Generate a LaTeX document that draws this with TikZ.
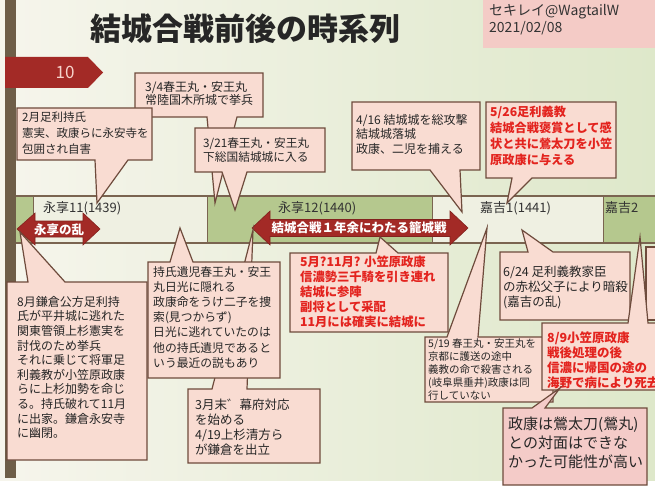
\documentclass[tikz,border=0pt]{standalone}
\usepackage{fontspec}
\newfontfamily\jp{Noto Sans CJK JP}
\definecolor{bgL}{HTML}{F6F5EC}
\definecolor{bgR}{HTML}{DEE8CA}
\definecolor{bandG}{HTML}{B5C88E}
\definecolor{bandL}{HTML}{EFF0E2}
\definecolor{bandLine}{HTML}{7A6450}
\definecolor{arrowRed}{HTML}{A32A26}
\definecolor{boxFill}{HTML}{F9DCD2}
\definecolor{boxFillB}{HTML}{F4CBC8}
\definecolor{boxLine}{HTML}{6E4B3C}
\definecolor{txtRed}{HTML}{E3231E}
\definecolor{pinkTag}{HTML}{F4CBC6}
\definecolor{barBrown}{HTML}{6E5E48}
\definecolor{tagText}{HTML}{F6D3CB}
\tikzset{
  callout/.style={fill=boxFill, draw=boxLine, line width=1.2pt, line join=miter},
  btext/.style={anchor=north west, inner sep=0pt, align=left, text=black!85},
  redtext/.style={btext, text=txtRed},
  yearlabel/.style={anchor=west, inner sep=0pt, text=black!80, font=\jp\fontsize{13}{15}\selectfont},
  bigarrow/.style={fill=arrowRed, draw=arrowRed!80!black, line width=0.6pt},
  arrowtext/.style={text=white, inner sep=0pt, font=\jp\bfseries\fontsize{12.5}{14}\selectfont},
}
\newcommand\calloutBottom[9][]{%
  \draw[callout,#1] (#2,#3) -- (#4,#3) -- (#4,#5) -- (#7,#5) -- (#8,#9) -- (#6,#5) -- (#2,#5) -- cycle;}
\newcommand\calloutTop[9][]{%
  \draw[callout,#1] (#2,#3) -- (#6,#3) -- (#8,#9) -- (#7,#3) -- (#4,#3) -- (#4,#5) -- (#2,#5) -- cycle;}
\newcommand\fsz[2]{\jp\fontsize{#1}{#2}\selectfont}
\begin{document}
\begin{tikzpicture}[x=1pt,y=-1pt]
\useasboundingbox (0,0) rectangle (655,497);
\clip (0,0) rectangle (655,497);
% background
\fill[white] (0,0) rectangle (655,497);
\shade[left color=bgL, right color=bgR] (0,0) rectangle (655,480);
% left bar
\fill[barBrown] (5,0) rectangle (16,478);
% red tag
\fill[arrowRed] (5,57) -- (88,57) -- (103,72.5) -- (88,88) -- (5,88) -- cycle;
\node[text=tagText, font=\jp\fontsize{17}{19}\selectfont] (tag) at (65,72) {10};
% title
\node[font=\jp\bfseries\fontsize{31}{34}\selectfont, text=black!85] (title) at (245,29) {結城合戦前後の時系列};
\fill[pinkTag] (483,0) rectangle (655,48);
\node[anchor=north west, inner sep=0pt, align=left, font=\jp\fontsize{14}{17}\selectfont, text=black!80] (author) at (489,4) {セキレイ@WagtailW\\2021/02/08};
% timeline band
\fill[bandG] (16,196) rectangle (655,243);
\fill[bandL] (33,196) rectangle (207,243);
\fill[bandL] (432,196) rectangle (603,243);
\draw[bandLine, line width=0.6pt] (33,196) -- (33,243) (207,196) -- (207,243) (432,196) -- (432,243) (603,196) -- (603,243);
\draw[bandLine, line width=1.6pt] (16,196) -- (655,196);
\draw[bandLine, line width=1.6pt] (16,243) -- (655,243);
\node[yearlabel] (y1439) at (43,208) {永享11(1439)};
\node[yearlabel] (y1440) at (278,208) {永享12(1440)};
\node[yearlabel] (y1441) at (480,208) {嘉吉1(1441)};
\node[yearlabel] (y1442) at (605,208) {嘉吉2};
% red double arrows
\draw[bigarrow] (17,229) -- (35,213) -- (35,221) -- (83,221) -- (83,213) -- (100,229) -- (83,245) -- (83,237) -- (35,237) -- (35,245) -- cycle;
\node[arrowtext] (eikyo) at (59,229.5) {永享の乱};
\draw[bigarrow] (252,228) -- (270,211) -- (270,219.5) -- (450,219.5) -- (450,211) -- (468,228) -- (450,245) -- (450,236.5) -- (270,236.5) -- (270,245) -- cycle;
\node[arrowtext] (yuki) at (359,228) {結城合戦１年余にわたる籠城戦};
% upper callouts
\calloutBottom{135}{73}{263}{117}{207}{237}{215}{203}
\node[btext, font=\fsz{12}{13.5}] (c2) at (145,81) {3/4春王丸・安王丸\\常陸国木所城で挙兵};
\calloutBottom{195}{128}{325}{172}{222}{247}{235}{210}
\node[btext, font=\fsz{11.7}{14}] (c3) at (203,137) {3/21春王丸・安王丸\\下総国結城城に入る};
\calloutBottom{17}{108}{152}{160}{95}{128}{97}{203}
\node[btext, font=\fsz{11.5}{16}] (c1) at (22,112) {2月足利持氏\\憲実、政康らに永安寺を\\包囲され自害};
\calloutBottom{352}{102}{480}{170}{430}{460}{462}{212}
\node[btext, font=\fsz{12}{14.5}] (c4) at (356,114) {4/16 結城城を総攻撃\\結城城落城\\政康、二児を捕える};
\calloutBottom{486}{102}{616}{178}{512}{532}{507}{203}
\node[redtext, font=\fsz{12.2}{16}\bfseries] (c5) at (490,106) {5/26足利義教\\結城合戦褒賞として感\\状と共に鶯太刀を小笠\\原政康に与える};
% lower callouts
\calloutTop{188}{389}{320}{463}{212}{247}{253}{230}
\node[btext, font=\fsz{12.5}{15}] (c8) at (195,399) {3月末゛幕府対応\\を始める\\4/19上杉清方ら\\が鎌倉を出立};
\calloutTop{148}{262}{280}{378}{170}{193}{180}{228}
\node[btext, font=\fsz{11.8}{15.2}] (c7) at (153,266) {持氏遺児春王丸・安王\\丸日光に隠れる\\政康命をうけ二子を捜\\索(見つからず)\\日光に逃れていたのは\\他の持氏遺児であると\\いう最近の説もあり};
\calloutTop{7}{282}{147}{460}{28}{65}{20}{232}
\node[btext, font=\fsz{12}{14.6}] (c6) at (17,296) {8月鎌倉公方足利持\\氏が平井城に逃れた\\関東管領上杉憲実を\\討伐のため挙兵\\それに乗じて将軍足\\利義教が小笠原政康\\らに上杉加勢を命じ\\る。持氏破れて11月\\に出家。鎌倉永安寺\\に幽閉。};
\calloutTop{290}{253}{448}{332}{376}{398}{380}{237}
\node[redtext, font=\fsz{12.3}{15}\bfseries] (c9) at (300,256) {5月?11月? 小笠原政康\\信濃勢三千騎を引き連れ\\結城に参陣\\副将として采配\\11月には確実に結城に};
\calloutTop{425}{337}{553}{402}{447}{478}{487}{228}
\node[btext, font=\fsz{10.5}{13}] (c10) at (428,338) {5/19 春王丸・安王丸を\\京都に護送の途中\\義教の命で殺害される\\(岐阜県垂井)政康は同\\行していない};
\draw[callout] (646,247) rectangle (675,320);
\calloutTop{500}{252}{630}{320}{528}{553}{522}{230}
\node[btext, font=\fsz{12.5}{15}] (c11) at (503,266) {6/24 足利義教家臣\\の赤松父子により暗殺\\(嘉吉の乱)};
\calloutTop{542}{323}{675}{390}{628}{648}{640}{237}
\node[redtext, font=\fsz{12.5}{15}\bfseries] (c12) at (547,331) {8/9小笠原政康\\戦後処理の後\\信濃に帰国の途の\\海野で病により死去};
\calloutTop[fill=boxFillB]{503}{408}{647}{485}{532}{545}{560}{388}
\node[btext, font=\fsz{15}{19}] (c13) at (508,417) {政康は鶯太刀(鶯丸)\\との対面はできな\\かった可能性が高い};
\end{tikzpicture}
\end{document}
